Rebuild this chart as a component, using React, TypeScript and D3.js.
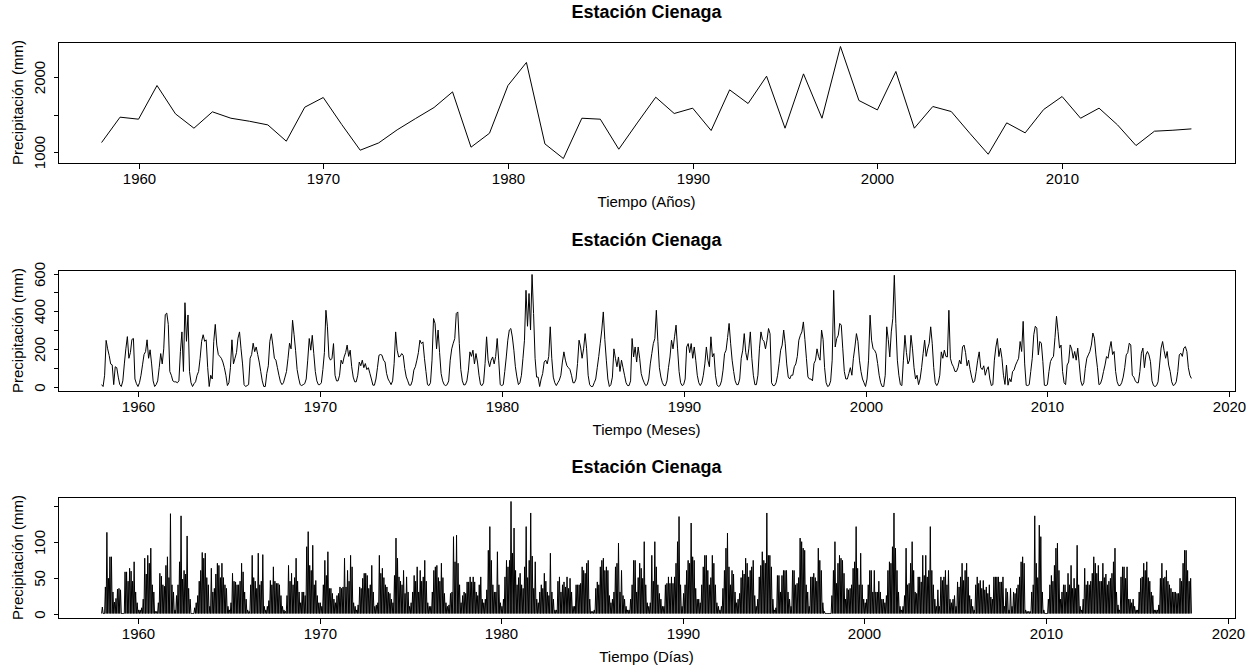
import React, { useEffect, useRef } from "react";
import * as d3 from "d3";

// Precipitación anual (mm), 1958-2017
const annualYears = d3.range(1958, 2018);
const annualRain = [
  1129, 1467, 1440, 1889, 1511, 1320, 1538, 1453, 1413, 1364,
  1147, 1600, 1729, 1369, 1027, 1124, 1298, 1449, 1596, 1804,
  1067, 1253, 1889, 2196, 1111, 916, 1453, 1440, 1040, 1390,
  1733, 1516, 1587, 1289, 1831, 1649, 2013, 1320, 2044, 1453,
  2409, 1689, 1564, 2076, 1320, 1609, 1542, 1253, 973, 1391,
  1258, 1569, 1742, 1453, 1587, 1364, 1089, 1280, 1293, 1311,
];

// Precipitación mensual (mm), one row per year from 1958, Jan..Dec
const monthlyRain = [
  [10, 0, 60, 245, 200, 165, 120, 115, 10, 105, 100, 50],
  [10, 0, 30, 120, 200, 265, 150, 180, 250, 255, 40, 15],
  [0, 20, 60, 115, 170, 185, 248, 150, 195, 120, 30, 0],
  [10, 30, 100, 175, 120, 200, 382, 390, 330, 80, 60, 30],
  [25, 25, 20, 30, 185, 290, 80, 445, 240, 380, 80, 20],
  [0, 15, 25, 60, 80, 150, 240, 275, 240, 248, 100, 0],
  [60, 40, 240, 330, 220, 170, 160, 150, 130, 100, 60, 5],
  [20, 100, 248, 120, 150, 180, 257, 290, 200, 120, 10, 0],
  [5, 10, 150, 170, 230, 185, 210, 170, 130, 80, 30, 0],
  [0, 70, 110, 240, 280, 220, 150, 140, 100, 60, 25, 10],
  [20, 50, 80, 150, 230, 200, 352, 275, 190, 90, 45, 10],
  [5, 10, 15, 40, 140, 255, 193, 272, 175, 80, 30, 10],
  [10, 20, 90, 180, 405, 317, 157, 140, 150, 228, 60, 30],
  [30, 60, 140, 120, 157, 180, 220, 160, 193, 105, 50, 25],
  [25, 60, 130, 110, 140, 100, 122, 90, 100, 70, 40, 7],
  [7, 40, 100, 166, 170, 166, 140, 130, 70, 40, 25, 10],
  [30, 122, 290, 193, 157, 160, 175, 165, 96, 51, 30, 7],
  [7, 30, 87, 105, 140, 180, 246, 228, 237, 150, 80, 10],
  [5, 20, 140, 361, 335, 200, 300, 180, 69, 30, 10, 5],
  [10, 30, 140, 200, 230, 255, 388, 396, 228, 90, 30, 8],
  [10, 30, 87, 184, 160, 193, 120, 175, 130, 60, 10, 5],
  [20, 122, 264, 140, 105, 140, 157, 120, 160, 255, 140, 10],
  [5, 10, 80, 157, 246, 300, 308, 263, 193, 105, 51, 10],
  [20, 60, 150, 246, 511, 320, 494, 300, 595, 388, 150, 50],
  [50, 0, 40, 69, 130, 140, 120, 160, 317, 150, 50, 20],
  [5, 20, 34, 60, 130, 184, 140, 110, 100, 90, 60, 20],
  [20, 40, 122, 246, 210, 150, 200, 281, 200, 60, 10, 0],
  [0, 20, 40, 100, 160, 230, 300, 396, 250, 140, 40, 0],
  [10, 50, 200, 150, 105, 157, 80, 140, 100, 60, 20, 5],
  [5, 30, 255, 157, 210, 130, 210, 150, 69, 40, 20, 5],
  [10, 40, 120, 175, 228, 255, 405, 240, 100, 50, 20, 5],
  [5, 30, 100, 157, 246, 200, 264, 326, 200, 80, 20, 5],
  [10, 40, 210, 228, 180, 228, 150, 210, 140, 60, 20, 5],
  [20, 60, 120, 210, 140, 105, 264, 157, 175, 60, 10, 0],
  [5, 30, 87, 175, 193, 260, 335, 230, 140, 80, 30, 10],
  [10, 40, 150, 193, 281, 180, 140, 200, 290, 150, 60, 10],
  [10, 60, 200, 290, 250, 240, 200, 246, 308, 280, 20, 5],
  [5, 20, 60, 122, 193, 220, 300, 230, 120, 51, 40, 60],
  [60, 105, 120, 160, 246, 272, 290, 343, 250, 150, 51, 40],
  [40, 30, 122, 140, 200, 160, 140, 300, 250, 100, 20, 0],
  [5, 30, 140, 511, 210, 255, 272, 335, 326, 200, 80, 40],
  [40, 69, 100, 60, 150, 210, 281, 240, 140, 80, 40, 20],
  [0, 40, 140, 379, 246, 200, 193, 175, 122, 60, 20, 0],
  [0, 60, 317, 250, 157, 290, 361, 591, 335, 140, 60, 10],
  [5, 140, 272, 180, 120, 140, 272, 200, 100, 40, 60, 10],
  [40, 100, 175, 246, 160, 200, 230, 317, 230, 100, 20, 5],
  [20, 60, 184, 150, 193, 160, 157, 405, 150, 120, 105, 80],
  [80, 100, 140, 120, 210, 220, 180, 110, 140, 90, 50, 20],
  [30, 80, 140, 184, 100, 90, 110, 60, 90, 105, 40, 5],
  [10, 140, 210, 255, 159, 204, 150, 60, 11, 114, 7, 43],
  [25, 79, 88, 114, 132, 150, 239, 186, 346, 120, 7, 5],
  [10, 80, 150, 275, 320, 310, 168, 239, 230, 132, 7, 5],
  [10, 79, 132, 150, 160, 260, 373, 293, 204, 220, 80, 20],
  [10, 114, 130, 221, 200, 150, 186, 140, 204, 120, 30, 5],
  [20, 96, 150, 168, 186, 220, 284, 257, 168, 100, 10, 15],
  [40, 79, 114, 159, 150, 200, 239, 170, 186, 80, 25, 5],
  [5, 20, 50, 100, 168, 180, 230, 220, 60, 50, 30, 20],
  [20, 79, 177, 204, 100, 168, 186, 168, 132, 30, 5, 0],
  [5, 25, 114, 204, 239, 190, 150, 186, 114, 80, 25, 5],
  [10, 25, 79, 168, 177, 160, 204, 212, 186, 100, 60, 43],
];

// Máxima diaria de cada mes (mm), one row per year
const dailyMaxRain = [
  [9, 0, 37, 113, 49, 79, 79, 30, 16, 21, 34, 35],
  [33, 0, 0, 58, 58, 45, 63, 59, 45, 72, 30, 15],
  [5, 5, 8, 20, 77, 55, 81, 70, 91, 40, 30, 3],
  [3, 15, 56, 52, 40, 38, 67, 79, 50, 139, 40, 30],
  [5, 25, 40, 72, 136, 48, 60, 55, 108, 35, 20, 0],
  [0, 8, 15, 25, 45, 60, 85, 77, 84, 50, 40, 10],
  [63, 30, 35, 55, 70, 67, 50, 70, 50, 40, 35, 10],
  [5, 15, 56, 45, 44, 40, 40, 45, 70, 58, 30, 20],
  [5, 3, 40, 81, 50, 45, 35, 84, 40, 45, 82, 10],
  [5, 10, 18, 46, 40, 65, 45, 42, 42, 40, 25, 10],
  [5, 3, 25, 67, 45, 56, 40, 50, 77, 45, 30, 15],
  [30, 30, 25, 93, 114, 67, 60, 95, 40, 46, 25, 15],
  [15, 10, 40, 74, 53, 86, 35, 35, 28, 20, 15, 25],
  [28, 37, 35, 37, 77, 37, 60, 45, 81, 65, 15, 10],
  [5, 12, 37, 35, 49, 56, 56, 53, 35, 40, 67, 30],
  [10, 12, 15, 81, 56, 63, 50, 40, 37, 30, 28, 20],
  [15, 53, 105, 77, 51, 45, 40, 60, 28, 51, 30, 10],
  [15, 30, 53, 45, 65, 30, 60, 45, 51, 74, 45, 15],
  [10, 10, 30, 60, 65, 67, 50, 45, 70, 50, 28, 15],
  [10, 12, 28, 30, 107, 72, 109, 70, 40, 15, 25, 30],
  [28, 44, 44, 51, 44, 51, 44, 30, 25, 40, 51, 20],
  [15, 20, 33, 88, 121, 74, 40, 30, 30, 86, 40, 15],
  [10, 20, 51, 74, 65, 74, 156, 84, 119, 60, 40, 50],
  [56, 40, 35, 65, 121, 50, 74, 140, 80, 35, 72, 20],
  [15, 30, 40, 35, 56, 45, 30, 25, 84, 30, 20, 5],
  [5, 45, 51, 30, 40, 44, 37, 51, 35, 49, 30, 10],
  [10, 40, 40, 40, 42, 65, 60, 56, 70, 74, 20, 3],
  [3, 5, 35, 44, 40, 65, 74, 77, 60, 65, 60, 25],
  [15, 20, 30, 65, 70, 98, 30, 60, 25, 20, 10, 5],
  [5, 20, 40, 74, 74, 30, 50, 70, 63, 49, 100, 40],
  [15, 10, 15, 81, 45, 100, 65, 40, 28, 20, 10, 10],
  [40, 42, 51, 42, 51, 42, 51, 70, 100, 135, 40, 10],
  [28, 40, 60, 74, 70, 126, 79, 74, 35, 20, 20, 15],
  [40, 65, 81, 81, 60, 40, 50, 81, 70, 40, 15, 10],
  [5, 10, 35, 60, 91, 112, 65, 40, 60, 55, 30, 15],
  [20, 28, 50, 60, 55, 77, 70, 51, 60, 65, 74, 25],
  [10, 20, 51, 67, 86, 74, 70, 140, 81, 81, 65, 20],
  [5, 8, 53, 53, 30, 53, 60, 60, 60, 30, 20, 10],
  [60, 60, 40, 42, 50, 105, 100, 91, 88, 40, 30, 10],
  [51, 51, 56, 50, 45, 91, 74, 60, 15, 3, 0, 0],
  [0, 0, 25, 60, 100, 42, 70, 81, 77, 74, 56, 20],
  [35, 33, 35, 40, 63, 72, 121, 63, 40, 84, 40, 20],
  [15, 20, 40, 60, 60, 30, 60, 30, 30, 45, 30, 20],
  [20, 15, 25, 60, 72, 70, 93, 140, 91, 60, 30, 10],
  [5, 10, 25, 91, 40, 42, 70, 100, 60, 30, 28, 51],
  [51, 44, 81, 53, 81, 51, 60, 121, 60, 40, 20, 10],
  [33, 10, 51, 46, 51, 60, 40, 60, 20, 15, 20, 25],
  [10, 44, 37, 51, 70, 46, 60, 70, 51, 25, 20, 10],
  [5, 40, 51, 42, 46, 35, 46, 33, 37, 28, 40, 23],
  [20, 51, 51, 51, 51, 44, 44, 51, 10, 35, 30, 5],
  [35, 10, 30, 28, 35, 40, 51, 72, 79, 70, 5, 3],
  [3, 3, 30, 40, 136, 70, 50, 123, 107, 30, 5, 0],
  [0, 20, 40, 53, 45, 67, 91, 98, 60, 20, 30, 40],
  [40, 30, 56, 40, 67, 35, 49, 35, 95, 40, 10, 5],
  [20, 63, 40, 45, 40, 45, 56, 79, 70, 56, 67, 45],
  [45, 70, 50, 55, 40, 45, 49, 56, 72, 91, 30, 12],
  [5, 51, 65, 65, 49, 65, 20, 20, 15, 20, 10, 5],
  [5, 30, 49, 51, 70, 60, 72, 50, 45, 30, 25, 5],
  [5, 5, 12, 49, 70, 49, 51, 60, 45, 40, 35, 30],
  [30, 30, 28, 28, 49, 45, 70, 88, 88, 60, 45, 49],
];

const firstYear = 1958;
const yearTicks = [1960, 1970, 1980, 1990, 2000, 2010, 2020];
const annualYTicks = [1000, 1500, 2000];
const annualYLabels = [1000, 2000];
const monthlyYTicks = [0, 100, 200, 300, 400, 500, 600];
const monthlyYLabels = [0, 200, 400, 600];
const dailyYTicks = [0, 50, 100, 150];
const dailyYLabels = [0, 50, 100];

const TITLE = "Estación Cienaga";
const YLAB = "Precipitación (mm)";
const FONT = "'Liberation Sans', Arial, Helvetica, sans-serif";

const LEFT = 58;
const RIGHT = 1235;
const PANEL_H = 121;
const TOPS = [42, 270, 497];

type Pt = [number, number];

// R style axis range: data range plus 4% on each side
function pad(ext: [number, number]): [number, number] {
  const p = (ext[1] - ext[0]) * 0.04;
  return [ext[0] - p, ext[1] + p];
}

function drawPanel(svg: any, top: number, points: Pt[], yTicks: number[], yLabels: number[], xlab: string) {
  const bottom = top + PANEL_H;
  const x = d3.scaleLinear()
    .domain(pad(d3.extent(points, (d) => d[0]) as [number, number]))
    .range([LEFT, RIGHT]);
  const y = d3.scaleLinear()
    .domain(pad(d3.extent(points, (d) => d[1]) as [number, number]))
    .range([bottom, top]);

  const g = svg.append("g");

  const line = d3.line<Pt>()
    .x((d) => x(d[0]))
    .y((d) => y(d[1]));

  g.append("path")
    .datum(points)
    .attr("d", line)
    .attr("fill", "none")
    .attr("stroke", "#000")
    .attr("stroke-width", 1);

  g.append("rect")
    .attr("x", LEFT + 0.5)
    .attr("y", top + 0.5)
    .attr("width", RIGHT - LEFT)
    .attr("height", PANEL_H)
    .attr("fill", "none")
    .attr("stroke", "#000")
    .attr("stroke-width", 1)
    .attr("shape-rendering", "crispEdges");

  // x axis
  const [d0, d1] = x.domain();
  const xt = yearTicks.filter((t) => t >= d0 && t <= d1);
  const xb = bottom + 0.5;
  g.append("line")
    .attr("x1", Math.round(x(xt[0])) + 0.5).attr("x2", Math.round(x(xt[xt.length - 1])) + 0.5)
    .attr("y1", xb).attr("y2", xb)
    .attr("stroke", "#000").attr("shape-rendering", "crispEdges");
  xt.forEach((t) => {
    const px = Math.round(x(t)) + 0.5;
    g.append("line")
      .attr("x1", px).attr("x2", px)
      .attr("y1", xb).attr("y2", xb + 5)
      .attr("stroke", "#000").attr("shape-rendering", "crispEdges");
    g.append("text")
      .attr("x", px).attr("y", bottom + 21)
      .attr("text-anchor", "middle")
      .attr("font-size", 15)
      .text(String(t));
  });

  // y axis
  const yl = LEFT + 0.5;
  g.append("line")
    .attr("x1", yl).attr("x2", yl)
    .attr("y1", Math.round(y(yTicks[0])) + 0.5).attr("y2", Math.round(y(yTicks[yTicks.length - 1])) + 0.5)
    .attr("stroke", "#000").attr("shape-rendering", "crispEdges");
  yTicks.forEach((v) => {
    const py = Math.round(y(v)) + 0.5;
    g.append("line")
      .attr("x1", yl - 5).attr("x2", yl)
      .attr("y1", py).attr("y2", py)
      .attr("stroke", "#000").attr("shape-rendering", "crispEdges");
    if (yLabels.includes(v)) {
      g.append("text")
        .attr("transform", `translate(45, ${py}) rotate(-90)`)
        .attr("text-anchor", "middle")
        .attr("font-size", 15)
        .text(String(v));
    }
  });

  g.append("text")
    .attr("x", (LEFT + RIGHT) / 2)
    .attr("y", top - 24)
    .attr("text-anchor", "middle")
    .attr("font-size", 18)
    .attr("font-weight", "bold")
    .text(TITLE);

  g.append("text")
    .attr("x", (LEFT + RIGHT) / 2)
    .attr("y", bottom + 44)
    .attr("text-anchor", "middle")
    .attr("font-size", 15)
    .text(xlab);

  g.append("text")
    .attr("transform", `translate(22.5, ${(top + bottom) / 2}) rotate(-90)`)
    .attr("text-anchor", "middle")
    .attr("font-size", 15)
    .text(YLAB);
}

export default function App() {
  const ref = useRef<SVGSVGElement>(null);

  useEffect(() => {
    document.body.style.margin = "0";
    const svg = d3.select(ref.current);
    svg.selectAll("*").remove();

    const annualPts: Pt[] = annualYears.map((yr, i) => [yr, annualRain[i]]);

    const monthlyPts: Pt[] = [];
    monthlyRain.forEach((row, yi) => {
      row.forEach((v, m) => monthlyPts.push([firstYear + yi + m / 12, v]));
    });

    // daily series drawn as one spike per month from the monthly daily maximum
    const dailyPts: Pt[] = [];
    dailyMaxRain.forEach((row, yi) => {
      row.forEach((v, m) => {
        const t0 = firstYear + yi + m / 12;
        dailyPts.push([t0, 0]);
        dailyPts.push([t0 + 1 / 24, v]);
      });
    });
    dailyPts.push([firstYear + dailyMaxRain.length, 0]);

    drawPanel(svg, TOPS[0], annualPts, annualYTicks, annualYLabels, "Tiempo (Años)");
    drawPanel(svg, TOPS[1], monthlyPts, monthlyYTicks, monthlyYLabels, "Tiempo (Meses)");
    drawPanel(svg, TOPS[2], dailyPts, dailyYTicks, dailyYLabels, "Tiempo (Días)");
  }, []);

  return (
    <svg
      ref={ref}
      width={1254}
      height={667}
      style={{ display: "block", background: "#fff", fontFamily: FONT }}
    />
  );
}
